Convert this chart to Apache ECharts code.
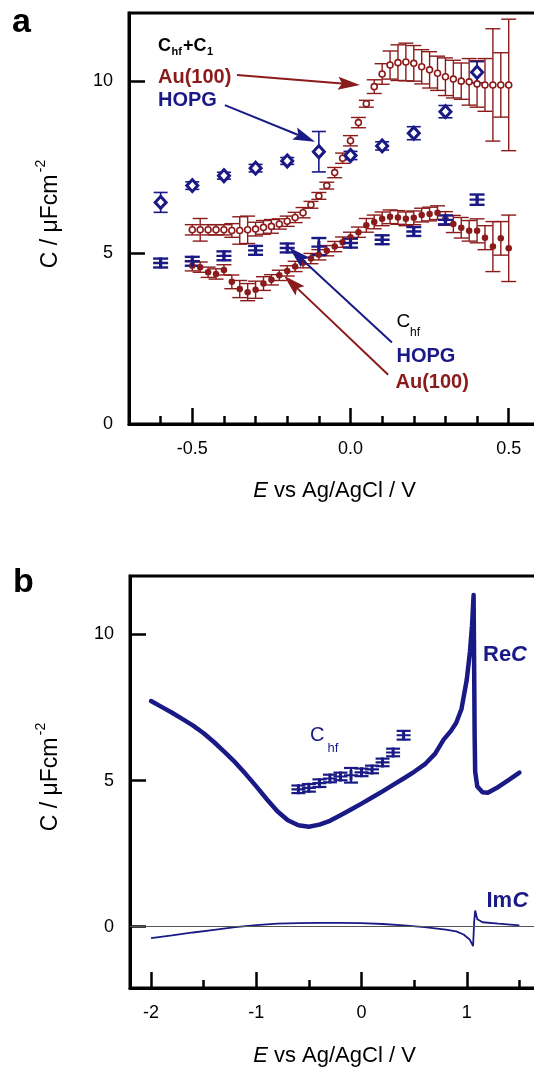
<!DOCTYPE html>
<html>
<head>
<meta charset="utf-8">
<script src="https://cdn.jsdelivr.net/npm/echarts@6/dist/echarts.min.js"></script>
<style>
  html, body { margin: 0; padding: 0; background: #fff; }
  #chart { width: 534px; height: 1068px; }
</style>
</head>
<body>
<div id="chart"></div>
<script>
// ---------- panel a: Au(100) capacitance vs potential ----------
const E_AU = [-0.5, -0.475, -0.45, -0.425, -0.4, -0.375, -0.35, -0.325, -0.3, -0.275,
  -0.25, -0.225, -0.2, -0.175, -0.15, -0.125, -0.1, -0.075, -0.05, -0.025,
  0.0, 0.025, 0.05, 0.075, 0.1, 0.125, 0.15, 0.175, 0.2, 0.225,
  0.25, 0.275, 0.3, 0.325, 0.35, 0.375, 0.4, 0.425, 0.45, 0.475, 0.5];
// C_hf + C_1 on Au(100)
const AU_TOTAL = [5.67, 5.67, 5.67, 5.67, 5.67, 5.65, 5.65, 5.67, 5.69, 5.74,
  5.77, 5.84, 5.92, 6.03, 6.17, 6.40, 6.66, 6.96, 7.34, 7.76,
  8.27, 8.80, 9.35, 9.85, 10.22, 10.48, 10.55, 10.57, 10.53, 10.43,
  10.34, 10.24, 10.14, 10.07, 10.01, 9.99, 9.93, 9.90, 9.90, 9.90, 9.90];
const AU_TOTAL_ERR = [0.15, 0.33, 0.15, 0.15, 0.15, 0.2, 0.4, 0.4, 0.2, 0.2,
  0.2, 0.15, 0.15, 0.15, 0.15, 0.1, 0.1, 0.1, 0.15, 0.15,
  0.15, 0.15, 0.1, 0.2, 0.3, 0.41, 0.52, 0.55, 0.52, 0.5,
  0.53, 0.5, 0.55, 0.55, 0.53, 0.68, 0.68, 0.77, 1.64, 0.94, 1.92];
// C_hf on Au(100)
const AU_HF = [4.62, 4.58, 4.43, 4.38, 4.50, 4.15, 3.94, 3.85, 3.92, 4.10,
  4.21, 4.34, 4.47, 4.60, 4.71, 4.83, 4.94, 5.06, 5.18, 5.31,
  5.45, 5.60, 5.80, 5.90, 5.99, 6.05, 6.03, 5.99, 6.02, 6.10,
  6.13, 6.17, 6.00, 5.84, 5.73, 5.64, 5.64, 5.44, 5.18, 5.42, 5.13];
const AU_HF_ERR = [0.15, 0.15, 0.15, 0.15, 0.15, 0.2, 0.25, 0.25, 0.25, 0.2,
  0.15, 0.15, 0.15, 0.15, 0.15, 0.15, 0.15, 0.15, 0.15, 0.15,
  0.15, 0.15, 0.2, 0.2, 0.2, 0.2, 0.2, 0.2, 0.2, 0.2,
  0.2, 0.2, 0.2, 0.25, 0.3, 0.3, 0.35, 0.35, 0.73, 0.49, 0.97];

// ---------- HOPG ----------
const E_HOPG = [-0.6, -0.5, -0.4, -0.3, -0.2, -0.1, 0.0, 0.1, 0.2, 0.3, 0.4];
const HOPG_TOTAL = [6.47, 6.96, 7.25, 7.47, 7.68, 7.95, 7.84, 8.12, 8.49, 9.12, 10.27];
const HOPG_TOTAL_ERR = [0.29, 0.11, 0.1, 0.11, 0.1, 0.59, 0.12, 0.12, 0.19, 0.18, 0.31];
const HOPG_HF = [4.70, 4.75, 4.91, 5.07, 5.14, 5.18, 5.28, 5.38, 5.62, 5.96, 6.55];
const HOPG_HF_ERR = [0.13, 0.13, 0.13, 0.13, 0.13, 0.25, 0.13, 0.13, 0.13, 0.13, 0.15];

// ---------- panel b: HOPG sweep, real and imaginary capacitance ----------
const E_RE = [-2.0, -1.9, -1.8, -1.7, -1.6, -1.5, -1.4, -1.3, -1.2, -1.1,
  -1.0, -0.9, -0.8, -0.7, -0.6, -0.5, -0.4, -0.3, -0.2, -0.1,
  0.0, 0.1, 0.2, 0.3, 0.4, 0.5, 0.6, 0.7,
  0.78, 0.85, 0.9, 0.95, 1.0, 1.03, 1.05, 1.065, 1.07, 1.075, 1.08, 1.1, 1.15, 1.2, 1.3, 1.4, 1.5];
const RE_C = [7.72, 7.52, 7.32, 7.10, 6.88, 6.62, 6.31, 5.97, 5.62, 5.22,
  4.80, 4.36, 3.95, 3.64, 3.47, 3.42, 3.49, 3.62, 3.81, 4.01,
  4.21, 4.42, 4.63, 4.85, 5.07, 5.30, 5.55, 5.92,
  6.40, 6.70, 6.98, 7.45, 8.45, 9.40, 10.30, 11.35, 9.00, 6.50, 5.30, 4.80, 4.60, 4.58, 4.78, 5.02, 5.27];
const E_IM = [-2.0, -1.8, -1.6, -1.4, -1.2, -1.0, -0.8, -0.6, -0.4, -0.2,
  0.0, 0.2, 0.4, 0.6, 0.8, 0.9, 0.97, 1.03, 1.06, 1.07, 1.08, 1.1, 1.15, 1.3, 1.5];
const IM_C = [-0.39, -0.30, -0.20, -0.11, -0.02, 0.05, 0.10, 0.12, 0.13, 0.13,
  0.12, 0.09, 0.04, -0.02, -0.10, -0.16, -0.27, -0.45, -0.67, 0.15, 0.55, 0.25, 0.15, 0.10, 0.04];

// ---------- tick positions ----------
const TICKS_A_MAJOR = [-0.5, 0.0, 0.5];
const TICKS_A_MINOR = [-0.6, -0.4, -0.3, -0.2, -0.1, 0.1, 0.2, 0.3, 0.4, 0.6];
const TICKS_B_MAJOR = [-2, -1, 0, 1, 2];
const TICKS_B_MINOR = [-1.5, -0.5, 0.5, 1.5];
const TICKS_C = [0, 5, 10];

// annotation arrows, [E start, C start, E tip, C tip]
const ARROWS_RED = [[-0.359, 10.19, 0.030, 9.90], [0.119, 1.44, -0.210, 4.33]];
const ARROWS_BLUE = [[-0.397, 9.31, -0.112, 8.24], [0.131, 2.38, -0.194, 5.15]];

const RED = '#8b1a1a';
const NAVY = '#1a1a86';
const FONT = '"Liberation Sans", Arial, Helvetica, sans-serif';

const pairs = (xs, ys) => xs.map((x, i) => [x, ys[i]]);
const bars = (xs, ys, es) => xs.map((x, i) => [x, ys[i] - es[i], ys[i] + es[i]]);

function errorBars(xi, yi, data, color, width, capHalf) {
  return {
    type: 'custom', xAxisIndex: xi, yAxisIndex: yi, data, silent: true, z: 2,
    encode: { x: 0, y: [1, 2] },
    renderItem(params, api) {
      const lo = api.coord([api.value(0), api.value(1)]);
      const hi = api.coord([api.value(0), api.value(2)]);
      const style = { stroke: color, lineWidth: width };
      return { type: 'group', children: [
        { type: 'line', shape: { x1: lo[0], y1: lo[1], x2: hi[0], y2: hi[1] }, style },
        { type: 'line', shape: { x1: lo[0] - capHalf, y1: lo[1], x2: lo[0] + capHalf, y2: lo[1] }, style },
        { type: 'line', shape: { x1: hi[0] - capHalf, y1: hi[1], x2: hi[0] + capHalf, y2: hi[1] }, style }
      ] };
    }
  };
}

function arrows(data, color) {
  return {
    type: 'custom', xAxisIndex: 0, yAxisIndex: 0, data, silent: true, z: 6,
    encode: { x: [0, 2], y: [1, 3] },
    renderItem(params, api) {
      const a = api.coord([api.value(0), api.value(1)]);
      const b = api.coord([api.value(2), api.value(3)]);
      const dx = b[0] - a[0], dy = b[1] - a[1], L = Math.hypot(dx, dy);
      const ux = dx / L, uy = dy / L, hl = 22, hw = 6.5;
      const base = [b[0] - ux * hl, b[1] - uy * hl];
      const notch = [b[0] - ux * hl * 0.82, b[1] - uy * hl * 0.82];
      const p1 = [base[0] - uy * hw, base[1] + ux * hw];
      const p2 = [base[0] + uy * hw, base[1] - ux * hw];
      return { type: 'group', children: [
        { type: 'line', shape: { x1: a[0], y1: a[1], x2: notch[0], y2: notch[1] }, style: { stroke: color, lineWidth: 2 } },
        { type: 'polygon', shape: { points: [b, p1, notch, p2] }, style: { fill: color } }
      ] };
    }
  };
}

function xAxisPair(grid, min, max, major, minor, fmt) {
  return [
    { type: 'value', gridIndex: grid, min, max, position: 'bottom',
      axisLine: { onZero: false, lineStyle: { color: '#000', width: 3 } },
      axisTick: { inside: true, length: 16, lineStyle: { color: '#000', width: 2.5 }, customValues: major },
      axisLabel: { customValues: major, formatter: fmt, color: '#000', fontSize: 18, fontFamily: FONT, margin: 16 },
      splitLine: { show: false } },
    { type: 'value', gridIndex: grid, min, max, position: 'bottom',
      axisLine: { show: false, onZero: false },
      axisTick: { inside: true, length: 8, lineStyle: { color: '#000', width: 2.5 }, customValues: minor },
      axisLabel: { show: false }, splitLine: { show: false } }
  ];
}

function yAxis(grid, min, max) {
  return { type: 'value', gridIndex: grid, min, max,
    axisLine: { onZero: false, lineStyle: { color: '#000', width: 3 } },
    axisTick: { inside: true, length: 16, lineStyle: { color: '#000', width: 2.5 }, customValues: TICKS_C },
    axisLabel: { customValues: TICKS_C, color: '#000', fontSize: 18, fontFamily: FONT, margin: 16 },
    splitLine: { show: false } };
}

function text(x, y, str, size, color, o = {}) {
  return { type: 'text', x, y, rotation: o.rot || 0, silent: true, z: 10,
    style: { text: str, fill: color, fontSize: size, fontFamily: FONT,
      fontWeight: o.bold ? 'bold' : 'normal', fontStyle: o.italic ? 'italic' : 'normal',
      textAlign: o.align || 'left', textVerticalAlign: 'middle', rich: o.rich } };
}

const xTitleRich = { i: { fontStyle: 'italic', fontSize: 22, fontFamily: FONT, fill: '#000' } };

const CROSS = 'path://M0,5.5 L14,5.5 L14,8.5 L0,8.5 Z M5.5,0 L8.5,0 L8.5,14 L5.5,14 Z';

const option = {
  animation: false,
  backgroundColor: '#fff',
  grid: [
    { left: 129, top: 13, width: 443, height: 411, show: true, borderColor: '#000', borderWidth: 3,
      containLabel: false, outerBoundsMode: 'none' },
    { left: 130, top: 576, width: 442, height: 412, show: true, borderColor: '#000', borderWidth: 3,
      containLabel: false, outerBoundsMode: 'none' }
  ],
  xAxis: [
    ...xAxisPair(0, -0.7, 0.7, TICKS_A_MAJOR, TICKS_A_MINOR, v => v.toFixed(1)),
    ...xAxisPair(1, -2.2, 2.0, TICKS_B_MAJOR, TICKS_B_MINOR, v => String(v))
  ],
  yAxis: [yAxis(0, 0, 12), yAxis(1, -2.1, 12)],
  series: [
    // panel a
    errorBars(0, 0, bars(E_AU, AU_TOTAL, AU_TOTAL_ERR), RED, 1.4, 7.5),
    { type: 'scatter', xAxisIndex: 0, yAxisIndex: 0, data: pairs(E_AU, AU_TOTAL), symbol: 'circle', symbolSize: 6, z: 4,
      itemStyle: { color: '#fff', borderColor: RED, borderWidth: 1.6, opacity: 1 } },
    errorBars(0, 0, bars(E_AU, AU_HF, AU_HF_ERR), RED, 1.4, 7.5),
    { type: 'scatter', xAxisIndex: 0, yAxisIndex: 0, data: pairs(E_AU, AU_HF), symbol: 'circle', symbolSize: 6.5, z: 4,
      itemStyle: { color: RED, opacity: 1 } },
    errorBars(0, 0, bars(E_HOPG, HOPG_TOTAL, HOPG_TOTAL_ERR), NAVY, 1.6, 7),
    { type: 'scatter', xAxisIndex: 0, yAxisIndex: 0, data: pairs(E_HOPG, HOPG_TOTAL), symbol: 'diamond', symbolSize: [11, 12], z: 5,
      itemStyle: { color: '#fff', borderColor: NAVY, borderWidth: 3, opacity: 1 } },
    errorBars(0, 0, bars(E_HOPG, HOPG_HF, HOPG_HF_ERR), NAVY, 2.4, 7.5),
    { type: 'scatter', xAxisIndex: 0, yAxisIndex: 0, data: pairs(E_HOPG, HOPG_HF), symbol: CROSS, symbolSize: [15, 11], z: 5,
      itemStyle: { color: NAVY, opacity: 1 } },
    arrows(ARROWS_RED, RED),
    arrows(ARROWS_BLUE, NAVY),
    // panel b
    { type: 'line', xAxisIndex: 2, yAxisIndex: 1, data: pairs(E_IM, IM_C), showSymbol: false, z: 3,
      lineStyle: { color: NAVY, width: 1.8 },
      markLine: { silent: true, symbol: 'none', label: { show: false },
        lineStyle: { color: '#555', width: 1, type: 'solid' }, data: [{ yAxis: 0 }] } },
    { type: 'line', xAxisIndex: 2, yAxisIndex: 1, data: pairs(E_RE, RE_C), showSymbol: false, z: 4,
      smooth: false, lineStyle: { color: NAVY, width: 4.5, join: 'round', cap: 'round' } },
    errorBars(2, 1, bars(E_HOPG, HOPG_HF, HOPG_HF_ERR), NAVY, 2.2, 7),
    { type: 'scatter', xAxisIndex: 2, yAxisIndex: 1, data: pairs(E_HOPG, HOPG_HF), symbol: CROSS, symbolSize: [14, 10], z: 5,
      itemStyle: { color: NAVY, opacity: 1 } }
  ],
  graphic: [
    // panel letters
    text(12, 23, 'a', 34, '#000', { bold: true }),
    text(13, 583, 'b', 34, '#000', { bold: true }),
    // panel a, upper legend
    text(158, 46, 'C', 18, '#000', { bold: true }),
    text(171.5, 52, 'hf', 11, '#000', { bold: true }),
    text(183, 46, '+', 18, '#000', { bold: true }),
    text(193.5, 46, 'C', 18, '#000', { bold: true }),
    text(207, 52, '1', 11, '#000', { bold: true }),
    text(158, 77, 'Au(100)', 20, RED, { bold: true }),
    text(158, 100, 'HOPG', 20, NAVY, { bold: true }),
    // panel a, lower legend
    text(396.5, 322, 'C', 19, '#000'),
    text(410, 333, 'hf', 12, '#000'),
    text(396.5, 356, 'HOPG', 20, NAVY, { bold: true }),
    text(395.5, 382.5, 'Au(100)', 20, RED, { bold: true }),
    // panel b labels
    text(310, 735.5, 'C', 20, NAVY),
    text(327.5, 748, 'hf', 13, NAVY),
    text(483, 655, 'Re', 22, NAVY, { bold: true }),
    text(511, 655, 'C', 22, NAVY, { bold: true, italic: true }),
    text(486.5, 901, 'Im', 22, NAVY, { bold: true }),
    text(512.5, 901, 'C', 22, NAVY, { bold: true, italic: true }),
    // axis titles
    text(334.5, 491, '{i|E} vs Ag/AgCl / V', 22, '#000', { align: 'center', rich: xTitleRich }),
    text(334.5, 1056, '{i|E} vs Ag/AgCl / V', 22, '#000', { align: 'center', rich: xTitleRich }),
    text(51, 221.5, 'C / \u03bcFcm', 23, '#000', { align: 'center', rot: Math.PI / 2 }),
    text(41.5, 166, '-2', 14, '#000', { align: 'center', rot: Math.PI / 2 }),
    text(51, 784.5, 'C / \u03bcFcm', 23, '#000', { align: 'center', rot: Math.PI / 2 }),
    text(41.5, 729, '-2', 14, '#000', { align: 'center', rot: Math.PI / 2 })
  ]
};

const chart = echarts.init(document.getElementById('chart'), null, { renderer: 'canvas' });
chart.setOption(option);
</script>
</body>
</html>
